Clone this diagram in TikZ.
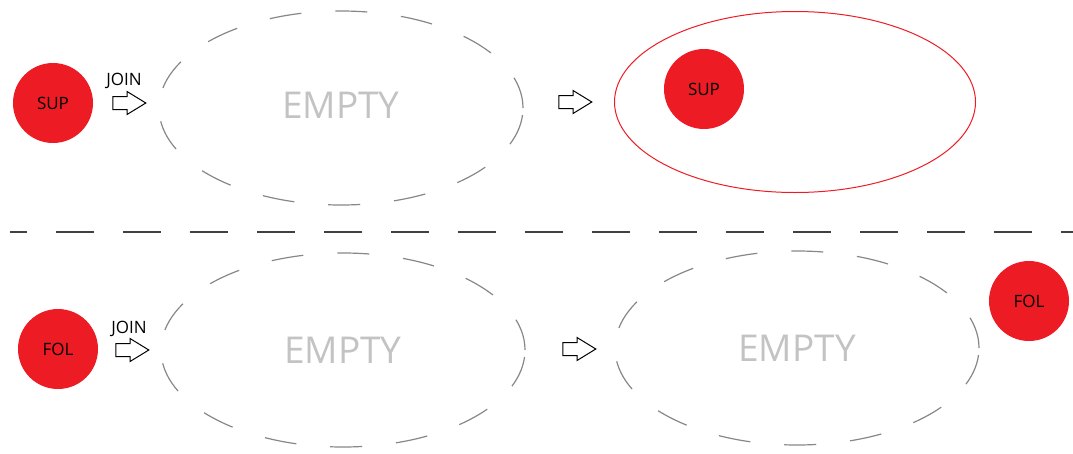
\documentclass[tikz,border=0pt]{standalone}
\usepackage{fontspec}
\setmainfont{Open Sans}
\usetikzlibrary{shapes.geometric,shapes.arrows}
\definecolor{blobred}{RGB}{237,28,36}
\definecolor{rimgray}{RGB}{135,135,135}
\definecolor{txtgray}{RGB}{195,195,195}
\tikzset{
  blob/.style={circle,fill=blobred,minimum size=80pt,inner sep=0pt,font=\fontsize{17}{17}\selectfont},
  pool/.style={ellipse,draw=rimgray,line width=1.2pt,dash pattern=on 32pt off 34pt,minimum width=364pt,minimum height=194pt,inner sep=0pt,text=txtgray,font=\fontsize{37}{37}\selectfont},
  ring/.style={ellipse,draw=blobred,line width=1pt,minimum width=361pt,minimum height=181pt,inner sep=0pt},
  go/.style={single arrow,draw,line width=1pt,inner xsep=0pt,inner ysep=6pt,minimum height=33pt,single arrow head extend=5pt,single arrow tip angle=63},
  tag/.style={font=\fontsize{17}{17}\selectfont,inner sep=0pt},
  split/.style={draw=black!75,line width=1.6pt,dash pattern=on 38pt off 29pt,dash phase=21pt}
}

\begin{document}
\begin{tikzpicture}[x=1pt,y=-1pt]
\useasboundingbox (0,0) rectangle (1073,453);
\node[blob] (sup) at (53,103) {SUP};
\node[tag] (join1) at (124,81) {JOIN};
\node[go] (go1) at (124,103) {};
\node[pool] (pool1) at (341,108) {\raisebox{6pt}{EMPTY}};
\node[go] (go2) at (570,102) {};
\node[ring] (ring) at (795,102) {};
\node[blob] (supin) at (704,89) {SUP};
\coordinate (sepL) at (10,232); \coordinate (sepR) at (1073,232);
\draw[split] (sepL) -- (sepR);
\node[blob] (fol) at (58,349) {FOL};
\node[tag] (join2) at (129,329) {JOIN};
\node[go] (go3) at (127,350) {};
\node[pool] (pool2) at (343,350) {EMPTY};
\node[go] (go4) at (574,349) {};
\node[pool] (pool3) at (797,348) {EMPTY};
\node[blob] (folout) at (1029,301) {FOL};
\end{tikzpicture}
\end{document}
